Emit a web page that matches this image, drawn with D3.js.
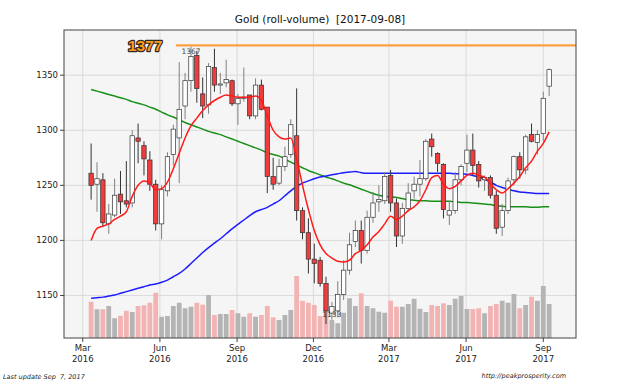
<!DOCTYPE html>
<html><head><meta charset="utf-8">
<script src="https://cdn.jsdelivr.net/npm/d3@7"></script>
<style>
html,body{margin:0;padding:0;background:#fff;}
svg{display:block;font-family:"DejaVu Sans",sans-serif;}
text{white-space:pre;}
</style></head>
<body>
<svg id="chart" width="640" height="384"></svg>
<script>
// ---- data ----
const weeks = ["2016-03-11","2016-03-18","2016-03-25","2016-04-01","2016-04-08","2016-04-15","2016-04-22","2016-04-29",
"2016-05-06","2016-05-13","2016-05-20","2016-05-27","2016-06-03","2016-06-10","2016-06-17","2016-06-24",
"2016-07-01","2016-07-08","2016-07-15","2016-07-22","2016-07-29","2016-08-05","2016-08-12","2016-08-19","2016-08-26",
"2016-09-02","2016-09-09","2016-09-16","2016-09-23","2016-09-30","2016-10-07","2016-10-14","2016-10-21","2016-10-28",
"2016-11-04","2016-11-11","2016-11-18","2016-11-25","2016-12-02","2016-12-09","2016-12-16","2016-12-23","2016-12-30",
"2017-01-06","2017-01-13","2017-01-20","2017-01-27","2017-02-03","2017-02-10","2017-02-17","2017-02-24",
"2017-03-03","2017-03-10","2017-03-17","2017-03-24","2017-03-31","2017-04-07","2017-04-14","2017-04-21","2017-04-28",
"2017-05-05","2017-05-12","2017-05-19","2017-05-26","2017-06-02","2017-06-09","2017-06-16","2017-06-23","2017-06-30",
"2017-07-07","2017-07-14","2017-07-21","2017-07-28","2017-08-04","2017-08-11","2017-08-18","2017-08-25","2017-09-01","2017-09-08"];

const open  = [1261,1251,1255,1215,1223,1242,1236,1234,1293,1286,1273,1251,1215,1245,1278,1293,1322,1345,1368,1333,1323,1357,1341,1343,1345,1324,1329,1332,1313,1341,
1321,1258,1252,1267,1278,1295,1227,1207,1183,1182,1161,1134,1136,1151,1173,1199,1209,1191,1221,1235,1236,1259,1234,1204,1229,1245,1251,1256,1292,1279,
1269,1223,1227,1255,1270,1282,1269,1255,1257,1241,1212,1227,1255,1276,1264,1296,1289,1297,1340];
const high  = [1288,1271,1261,1233,1256,1263,1272,1300,1306,1290,1281,1255,1250,1280,1305,1362,1352,1376,1372,1348,1361,1374,1352,1364,1346,1333,1357,1332,1347,1346,
1321,1275,1274,1285,1310,1338,1230,1220,1197,1185,1167,1144,1163,1182,1207,1218,1218,1227,1244,1250,1262,1264,1238,1234,1252,1258,1273,1292,1297,1280,
1270,1236,1262,1269,1296,1297,1272,1259,1259,1245,1233,1257,1277,1280,1296,1306,1300,1335,1356];
const low   = [1237,1226,1212,1206,1221,1224,1230,1230,1270,1259,1245,1209,1201,1240,1268,1252,1310,1335,1325,1311,1315,1335,1333,1339,1322,1305,1326,1310,1310,1318,
1243,1246,1250,1263,1275,1218,1201,1170,1161,1158,1124,1128,1130,1146,1169,1194,1179,1188,1216,1226,1233,1226,1194,1197,1226,1238,1240,1254,1276,1262,
1220,1214,1224,1250,1262,1259,1248,1245,1238,1206,1204,1224,1250,1256,1260,1289,1278,1290,1331];
const close = [1250,1256,1216,1224,1241,1235,1233,1295,1290,1274,1251,1215,1246,1276,1301,1319,1345,1367,1338,1322,1358,1341,1342,1346,1324,1329,1330,1313,1341,1319,
1258,1251,1267,1276,1305,1227,1207,1183,1179,1161,1136,1140,1151,1173,1196,1209,1191,1221,1234,1237,1258,1234,1204,1229,1243,1251,1256,1290,1285,1270,
1228,1227,1255,1267,1282,1268,1254,1257,1241,1211,1227,1254,1276,1264,1294,1290,1296,1329,1355];
const volume = [145,115,115,128,79,89,109,104,128,131,141,181,85,88,128,141,119,125,141,133,172,92,96,96,112,99,85,99,85,92,
128,83,72,92,112,248,149,141,132,88,119,72,59,101,159,128,179,128,119,105,101,149,125,125,136,157,117,104,132,128,
139,132,157,168,116,116,119,99,128,136,149,141,176,119,132,165,149,208,136];
const maShort = [1200,1211,1213,1215,1219,1222,1226,1240,1250,1254,1252,1246,1247,1253,1265,1279,1293,1304,1311,1318,1323,1327,1330,1332,1331,1330,1330,1330,1331,1327,
1313,1300,1294,1292,1293,1274,1250,1228,1209,1196,1188,1184,1181,1180.5,1182,1188,1191,1196,1203,1208,1215,1222,1219,1222,1227,1230.5,1236,1246,1257,1259,
1251,1247,1249,1254,1259,1261,1259,1257.5,1251.5,1246,1243,1247,1252,1258,1266,1272,1281,1288,1298.5];
const maMid = [1147.5,1148,1148.5,1149.5,1150.5,1152,1153.5,1155,1156.5,1158,1159.5,1160.5,1162,1164,1167,1170,1174,1179,1184,1189,1193.5,1197.5,1201.5,1206,1210.5,
1214.5,1218.5,1222.5,1226,1228,1230,1233,1236,1240.5,1245,1249,1252,1254,1256,1257.5,1258.5,1259.5,1260.5,1261.5,1262,1262.5,1261.5,1261,1261,1261,
1261,1261,1261,1261,1261,1261,1261,1261,1261,1261,1261,1261,1260.5,1260.5,1260,1259,1257.5,1255.5,1253,1250,1248,1246.5,1245,1244,1243.5,1243,1242.5,1242.5,1242.5];
const maLong = [1337,1335.5,1334,1332.5,1331,1329.5,1328,1326,1324.5,1323,1321,1319,1316.5,1314,1312,1309.5,1307,1305,1303,1301,1299,1297.5,1296,1294,1292,
1290,1288,1286,1284,1282,1279.5,1278,1276.5,1274,1271,1268.5,1266,1263.5,1261.5,1259.5,1257.5,1256,1254,1252,1250.5,1248.5,1246.5,1244.5,1242.5,1241,
1240,1239.5,1239,1238,1237,1236.5,1236,1236,1235.5,1235.5,1235.5,1235.5,1235,1234.5,1234.5,1234,1233.5,1233,1232.5,1231.5,1231,1230.5,1230.5,1230.5,1230.5,1230,1230,1230.5,1230.5];
const yTicks = [1150,1200,1250,1300,1350];
const xTicks = ["2016-03-01","2016-06-01","2016-09-01","2016-12-01","2017-03-01","2017-06-01","2017-09-01"];
const xTickLabels = ["Mar\n2016","Jun\n2016","Sep\n2016","Dec\n2016","Mar\n2017","Jun\n2017","Sep\n2017"];
const title = "Gold (roll-volume)  [2017-09-08]";
const levelValue = 1377, levelStart = "2016-06-20";
const highLabel = {week:"2016-07-08", text:"1367"};
const lowLabel = {week:"2016-12-23", text:"1133"};
const footLeft = "Last update Sep  7, 2017";
const footRight = "http://peakprosperity.com";

// ---- layout ----
const svg = d3.select("#chart");
const L = 64, R = 576, T = 30, B = 338;
const parse = d3.utcParse("%Y-%m-%d");
const dates = weeks.map(parse);
const x = d3.scaleUtc().domain([new Date(Date.UTC(2016,1,7,16)), new Date(Date.UTC(2017,9,10))]).range([L, R]);
const y = d3.scaleLinear().domain([1111.4, 1391]).range([B, T]);
const vy = d3.scaleLinear().domain([0, 400]).range([0, 100]);

svg.append("rect").attr("x",L).attr("y",T).attr("width",R-L).attr("height",B-T).attr("fill","#f5f5f5");

// grid
const g = svg.append("g");
g.selectAll(".gy").data(yTicks).join("line").attr("x1",L).attr("x2",R)
 .attr("y1",d=>y(d)).attr("y2",d=>y(d)).attr("stroke","#dadada").attr("stroke-width",1);
g.selectAll(".gx").data(xTicks).join("line").attr("y1",T).attr("y2",B)
 .attr("x1",d=>x(parse(d))).attr("x2",d=>x(parse(d))).attr("stroke","#dadada").attr("stroke-width",1);

// volume bars
svg.append("clipPath").attr("id","clip").append("rect").attr("x",L).attr("y",T).attr("width",R-L).attr("height",B-T);
const plot = svg.append("g").attr("clip-path","url(#clip)");
plot.selectAll(".vol").data(volume).join("rect")
 .attr("x",(d,i)=>x(dates[i])-2.4).attr("width",4.8)
 .attr("y",d=>B-vy(d)).attr("height",d=>vy(d))
 .attr("fill",(d,i)=>close[i]<open[i]?"#f4b3b3":"#b4b4b4");

// moving averages
const line = arr => d3.line().x((d,i)=>x(dates[i])).y(d=>y(d)).curve(d3.curveMonotoneX)(arr);
plot.append("path").attr("d",line(maLong)).attr("fill","none").attr("stroke","#189018").attr("stroke-width",1.5);
plot.append("path").attr("d",line(maMid)).attr("fill","none").attr("stroke","#1c1cff").attr("stroke-width",1.5);

// candles
const cg = plot.append("g");
dates.forEach((dt,i)=>{
  const cx = x(dt), up = close[i] >= open[i];
  cg.append("line").attr("x1",cx).attr("x2",cx).attr("y1",y(high[i])).attr("y2",y(low[i]))
    .attr("stroke", up ? "#808080" : "#333").attr("stroke-width",1);
  const top = y(Math.max(open[i],close[i])), bot = y(Math.min(open[i],close[i]));
  cg.append("rect").attr("x",cx-2.2).attr("width",4.4).attr("y",top).attr("height",Math.max(bot-top,0.8))
    .attr("fill", up ? "#ffffff" : "#f03c3c").attr("stroke","#333").attr("stroke-width",0.7);
});

plot.append("path").attr("d",line(maShort)).attr("fill","none").attr("stroke","#ff1a1a").attr("stroke-width",1.5);

// level line
plot.append("line").attr("x1",x(parse(levelStart))).attr("x2",R).attr("y1",y(levelValue)).attr("y2",y(levelValue))
 .attr("stroke","#ffa040").attr("stroke-width",2.2);

// labels
const hi = dates[weeks.indexOf(highLabel.week)];
svg.append("text").attr("x",x(hi)).attr("y",54).attr("text-anchor","middle").attr("font-size",7.5).attr("fill","#444").text(highLabel.text);
const lo = dates[weeks.indexOf(lowLabel.week)];
svg.append("text").attr("x",x(lo)).attr("y",317).attr("text-anchor","middle").attr("font-size",7.5).attr("fill","#333").text(lowLabel.text);

svg.append("text").attr("x",128).attr("y",50.5).attr("font-family","'Liberation Sans',Arial,sans-serif")
 .attr("font-weight","bold").attr("font-size",15.5).attr("fill","#ff9a1a").attr("stroke","#2a2a2a").attr("stroke-width",2.4)
 .attr("paint-order","stroke").attr("stroke-linejoin","round").text(levelValue);

// frame
svg.append("rect").attr("x",L).attr("y",T).attr("width",R-L).attr("height",B-T).attr("fill","none").attr("stroke","#444").attr("stroke-width",1);

// axes
const ya = svg.append("g");
ya.selectAll("line").data(yTicks).join("line").attr("x1",L-4).attr("x2",L).attr("y1",d=>y(d)).attr("y2",d=>y(d)).attr("stroke","#444");
ya.selectAll("text").data(yTicks).join("text").attr("x",L-6).attr("y",d=>y(d)+3).attr("text-anchor","end")
 .attr("font-size",8.5).attr("fill","#222").text(d=>d);
const xa = svg.append("g");
xa.selectAll("line").data(xTicks).join("line").attr("x1",d=>x(parse(d))).attr("x2",d=>x(parse(d))).attr("y1",B).attr("y2",B+4).attr("stroke","#444");
xTickLabels.forEach((lab,i)=>{
  const parts = lab.split("\n");
  const t = xa.append("text").attr("x",x(parse(xTicks[i]))).attr("text-anchor","middle").attr("font-size",8.5).attr("fill","#222");
  t.append("tspan").attr("x",x(parse(xTicks[i]))).attr("y",351).text(parts[0]);
  t.append("tspan").attr("x",x(parse(xTicks[i]))).attr("y",361.5).text(parts[1]);
});

svg.append("text").attr("x",320).attr("y",23).attr("text-anchor","middle").attr("font-size",10.5).attr("fill","#111").text(title);
svg.append("text").attr("x",3).attr("y",379).attr("font-size",6.5).attr("font-style","italic").attr("fill","#222").text(footLeft);
svg.append("text").attr("x",566).attr("y",378).attr("text-anchor","end").attr("font-size",6.5).attr("font-style","italic").attr("fill","#222").text(footRight);
</script>
</body></html>
